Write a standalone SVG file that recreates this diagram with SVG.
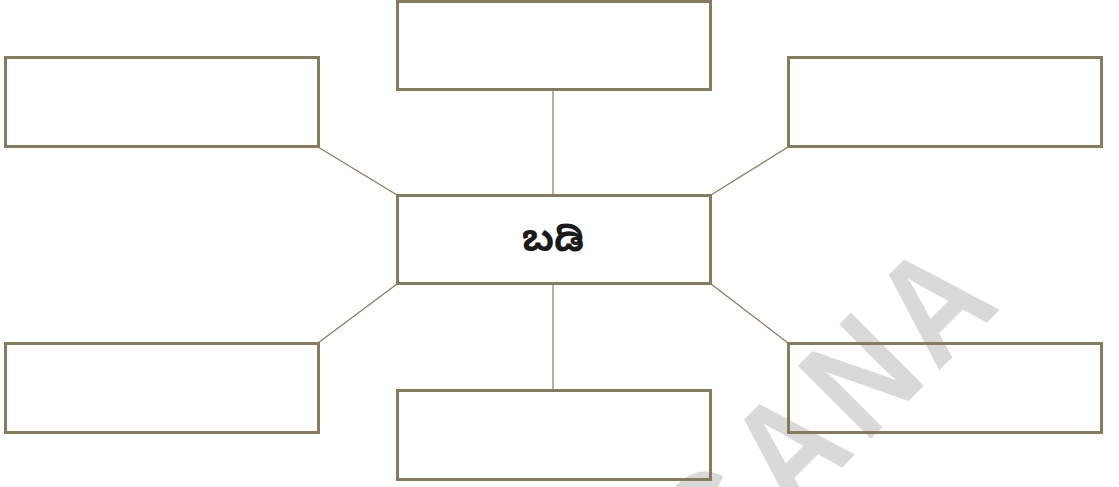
<svg xmlns="http://www.w3.org/2000/svg" width="1119" height="487" viewBox="0 0 1119 487">
<style>
.box{fill:none;stroke:#867b5b;stroke-width:3}
.conn{stroke:#867b5b;stroke-width:1.2;fill:none}
.wm{font-family:"Liberation Sans",Arial,sans-serif;font-size:150px;font-weight:bold;letter-spacing:12px;fill:#d9d9d9}
.lbl{font-family:"Noto Sans Kannada","Noto Sans","Lohit Kannada",sans-serif;font-size:36px;font-weight:bold;fill:#1a1a1a}
</style>
<rect width="1119" height="487" fill="#ffffff"/>
<text class="wm" transform="translate(715,594.5) rotate(-45) scale(0.85,1)">GANA</text>
<g id="connectors">
<line class="conn" x1="553" y1="89" x2="553" y2="195"/>
<line class="conn" x1="553" y1="284" x2="553" y2="390"/>
<line class="conn" x1="318" y1="147" x2="397" y2="195"/>
<line class="conn" x1="788" y1="147" x2="711" y2="195"/>
<line class="conn" x1="318" y1="343" x2="397" y2="284"/>
<line class="conn" x1="788" y1="343" x2="711" y2="284"/>
</g>
<g id="center"><rect class="box" x="397.5" y="195.5" width="313" height="88"/><text class="lbl" x="553" y="251" text-anchor="middle">ಬಡಿ</text></g>
<g id="top"><rect class="box" x="397.5" y="1.5" width="313" height="88"/></g>
<g id="upper-left"><rect class="box" x="5.5" y="57.5" width="313" height="89"/></g>
<g id="upper-right"><rect class="box" x="788.5" y="57.5" width="313" height="89"/></g>
<g id="lower-left"><rect class="box" x="5.5" y="343.5" width="313" height="89"/></g>
<g id="lower-right"><rect class="box" x="788.5" y="343.5" width="313" height="89"/></g>
<g id="bottom"><rect class="box" x="397.5" y="390.5" width="313" height="89"/></g>
</svg>
